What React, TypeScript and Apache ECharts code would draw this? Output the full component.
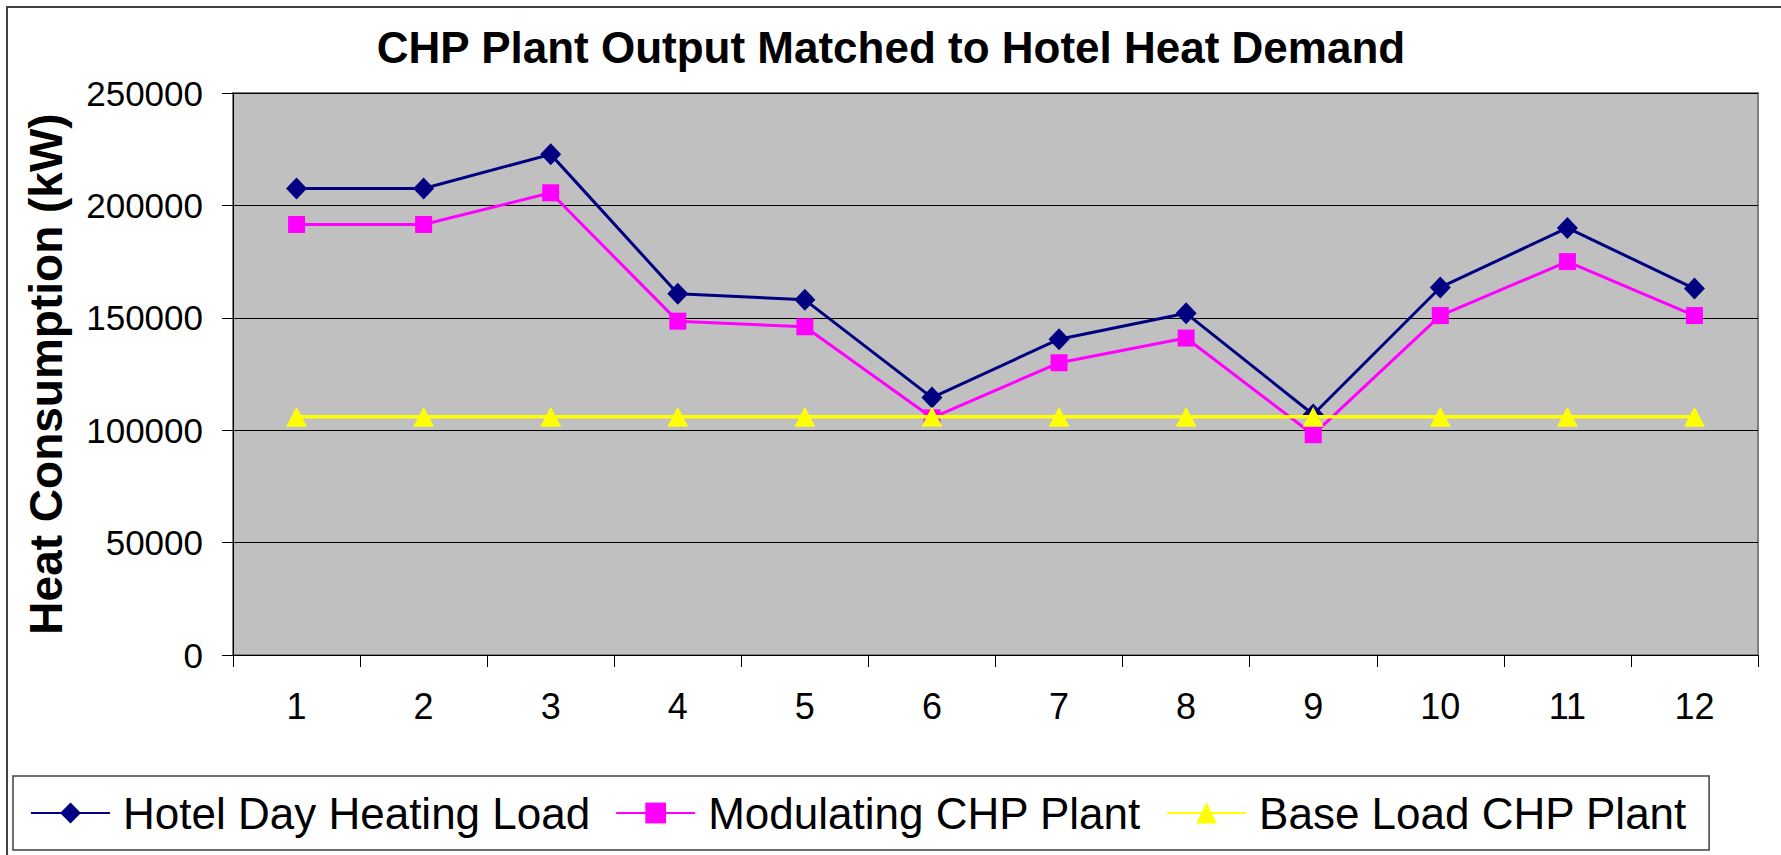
import React, { useEffect, useRef } from "react";
import * as echarts from "echarts";

const categories = ["1", "2", "3", "4", "5", "6", "7", "8", "9", "10", "11", "12"];
const hotelDayHeatingLoad = [207500, 207500, 222700, 160700, 158000, 114500, 140500, 152000, 107000, 163500, 190000, 163000];
const modulatingCHP = [191500, 191500, 205600, 148500, 146000, 105500, 130000, 141000, 98000, 151000, 175000, 151000];
const baseLoadCHP = [106000, 106000, 106000, 106000, 106000, 106000, 106000, 106000, 106000, 106000, 106000, 106000];
const seriesNames = ["Hotel Day Heating Load", "Modulating CHP Plant", "Base Load CHP Plant"];
const titleText = "CHP Plant Output Matched to Hotel Heat Demand";
const yAxisName = "Heat Consumption (kW)";

const FONT = "Arial, 'Liberation Sans', sans-serif";

export default function App() {
  const ref = useRef<HTMLDivElement>(null);
  useEffect(() => {
    if (!ref.current) return;
    const chart = echarts.init(ref.current, undefined, { renderer: "svg" });
    chart.setOption({
      animation: false,
      backgroundColor: "#ffffff",
      textStyle: { fontFamily: FONT },
      graphic: [
        {
          type: "rect",
          shape: { x: 7, y: 7, width: 1850, height: 950 },
          style: { fill: "none", stroke: "#404040", lineWidth: 2 },
          z: 0,
        },
        {
          type: "text",
          x: 891,
          y: 47,
          style: {
            text: titleText,
            font: `bold 44px ${FONT}`,
            fill: "#000",
            textAlign: "center",
            textVerticalAlign: "middle",
          },
        },
      ],
      grid: {
        left: 233,
        right: 23,
        top: 93,
        bottom: 200,
        show: true,
        backgroundColor: "#C0C0C0",
        borderColor: "#808080",
        borderWidth: 2,
        containLabel: false,
      },
      legend: {
        left: 13,
        top: 776,
        padding: [13, 22, 13, 17],
        borderColor: "#404040",
        borderWidth: 1.5,
        itemWidth: 79,
        itemHeight: 26,
        itemGap: 25,
        data: seriesNames,
        textStyle: {
          fontSize: 44,
          color: "#000",
          fontFamily: FONT,
          padding: [0, 0, 0, 8],
          lineHeight: 48,
        },
      },
      xAxis: {
        type: "category",
        data: categories,
        boundaryGap: true,
        axisLine: { show: true, lineStyle: { color: "#000", width: 1 } },
        axisTick: { show: true, length: 12, interval: 0, lineStyle: { color: "#000" } },
        axisLabel: { fontSize: 36, color: "#000", margin: 33, fontFamily: FONT },
        splitLine: { show: false },
      },
      yAxis: {
        type: "value",
        min: 0,
        max: 250000,
        interval: 50000,
        name: yAxisName,
        nameLocation: "middle",
        nameGap: 164,
        nameRotate: 90,
        nameTextStyle: { fontSize: 46, fontWeight: "bold", color: "#000", fontFamily: FONT },
        axisLine: { show: true, lineStyle: { color: "#000", width: 1 } },
        axisTick: { show: true, length: 11, lineStyle: { color: "#000" } },
        axisLabel: {
          fontSize: 35,
          color: "#000",
          margin: 30,
          fontFamily: FONT,
          formatter: (v: number) => String(v),
        },
        splitLine: { show: true, lineStyle: { color: "#000", width: 1 } },
      },
      series: [
        {
          name: seriesNames[0],
          type: "line",
          data: hotelDayHeatingLoad,
          symbol: "diamond",
          symbolSize: [21, 22],
          lineStyle: { color: "#000080", width: 3 },
          itemStyle: { color: "#000080" },
          z: 4,
        },
        {
          name: seriesNames[1],
          type: "line",
          data: modulatingCHP,
          symbol: "rect",
          symbolSize: 17,
          lineStyle: { color: "#FF00FF", width: 3 },
          itemStyle: { color: "#FF00FF" },
          z: 3,
        },
        {
          name: seriesNames[2],
          type: "line",
          data: baseLoadCHP,
          symbol: "triangle",
          symbolSize: [21, 20],
          lineStyle: { color: "#FFFF00", width: 3.5 },
          itemStyle: { color: "#FFFF00" },
          z: 5,
        },
      ],
    });
    return () => chart.dispose();
  }, []);
  return (
    <div
      ref={ref}
      style={{ position: "fixed", left: 0, top: 0, width: 1781, height: 855 }}
    />
  );
}
